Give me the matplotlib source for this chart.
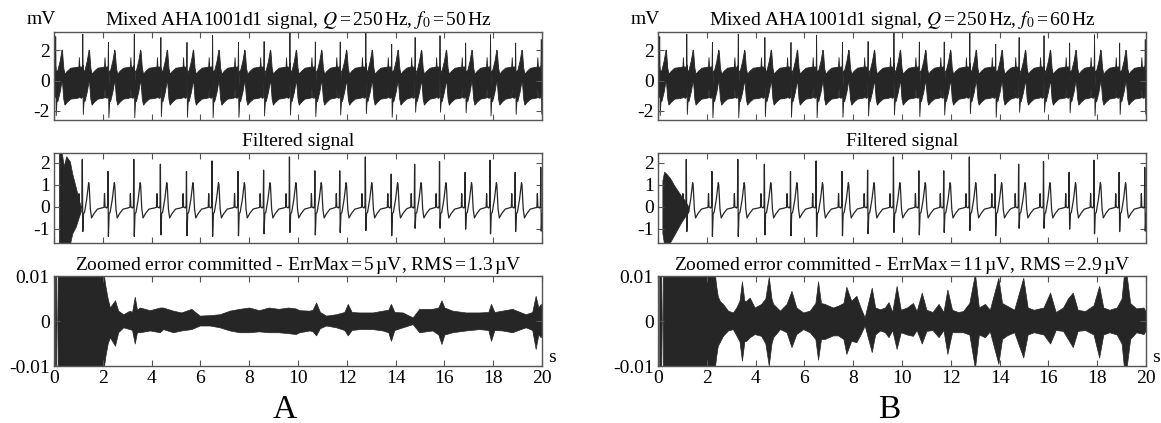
import numpy as np
import matplotlib
matplotlib.use("Agg")
import matplotlib.pyplot as plt

plt.rcParams["font.family"] = ["Liberation Serif", "DejaVu Serif"]
plt.rcParams["mathtext.fontset"] = "stix"
plt.rcParams["axes.unicode_minus"] = False

INK = "#262626"
FRAME = "#555555"

# R-peak times (s) and R / S amplitudes (mV)
beat_t = [0.05, 1.16, 2.21, 3.27, 4.36, 5.43, 6.48, 7.54, 8.59, 9.65,
          10.69, 11.71, 12.76, 13.82, 14.78, 15.80, 16.85, 17.87, 18.90, 19.95]
beat_r = [2.0, 2.16, 1.61, 2.16, 1.94, 1.61, 2.09, 1.61, 1.67, 2.27,
          1.64, 1.64, 2.27, 1.49, 1.94, 2.06, 1.57, 2.12, 1.57, 1.8]
beat_s = [-1.2, -1.12, -1.34, -1.34, -1.27, -1.31, -1.34, -1.31, -1.22, -1.16,
          -1.27, -1.16, -1.07, -1.31, -0.97, -0.97, -1.01, -1.22, -1.12, -1.1]

# one beat shape: offsets from R (s) and values (mV); None = R / S slots
tmpl_dt = [-0.25, -0.16, -0.14, -0.12, -0.05, -0.015, 0.0, 0.02, 0.05, 0.09,
           0.18, 0.26, 0.28, 0.33, 0.38, 0.48, 0.62]
tmpl_v = [-0.05, -0.02, 0.6, 0.0, -0.05, 0.05, None, None, -0.3, -0.25,
          0.35, 1.1, 1.0, -0.1, -0.5, -0.3, -0.1]

# 50/60 Hz interference band around the ECG (mV)
band_hi = 0.95
band_lo = -1.1

# start-up transient of the notch filter (envelope, mV)
trans_a_t = [0.20, 0.30, 0.40, 0.50, 0.65, 0.75, 0.89, 1.02, 1.10]
trans_a_top = [2.6, 2.6, 1.85, 2.3, 2.07, 1.5, 0.9, 0.3, 0.0]
trans_a_bot = [-1.8, -1.8, -1.8, -1.8, -1.7, -1.2, -0.9, -0.45, -0.2]

trans_b_t = [0.18, 0.25, 0.35, 0.50, 0.65, 0.80, 0.95, 1.10, 1.25]
trans_b_top = [1.2, 1.6, 1.5, 1.3, 1.0, 0.75, 0.5, 0.3, 0.0]
trans_b_bot = [-1.2, -1.7, -1.7, -1.6, -1.3, -1.0, -0.7, -0.45, -0.2]

# error envelopes (uV)
err_a_t = [0.03, 0.08, 0.10, 0.14, 0.15, 2.0, 2.1, 2.2, 2.29, 2.5, 2.63, 2.84, 3.1, 3.2,
           3.31, 3.4, 3.52, 3.93, 4.34, 4.47, 4.88, 5.22, 5.63, 5.97, 6.38, 6.79, 7.2,
           7.6, 8.0, 8.4, 8.8, 9.2, 9.6, 9.9, 10.06, 10.47, 10.6, 10.74, 10.9, 11.15,
           11.56, 11.9, 12.04, 12.2, 12.51, 13.06, 13.47, 13.7, 13.81, 13.95, 14.29,
           14.7, 14.97, 15.51, 15.75, 15.88, 16.0, 16.33, 16.88, 17.42, 17.8, 17.91,
           18.05, 18.37, 18.78, 19.33, 19.6, 19.74, 19.85, 19.95, 20.0]
err_a_top = [12, 12, 0, 0, 12, 12, 8, 5, 3.0, 4.6, 2.3, 1.5, 2.3, 2.0,
             5.4, 2.5, 3.0, 2.4, 3.0, 3.0, 2.3, 1.9, 2.7, 1.2, 1.3, 1.5, 2.3,
             2.7, 3.0, 2.4, 3.0, 2.7, 3.0, 2.8, 2.4, 2.3, 2.5, 4.1, 2.0, 1.2,
             1.5, 2.0, 3.8, 2.0, 1.9, 1.9, 2.3, 2.5, 3.8, 2.0, 1.9,
             0.8, 2.7, 2.7, 3.0, 4.6, 3.0, 2.3, 1.9, 1.9, 2.0, 3.8,
             2.0, 2.3, 2.7, 1.5, 2.0, 5.6, 3.0, 3.8, 3.0]
err_a_bot = [-12, -12, 0, 0, -12, -12, -8, -5, -3.6, -5.5, -2.5, -1.4, -1.8, -2.0,
             -5.0, -2.5, -2.5, -2.1, -2.5, -1.8, -2.5, -2.1, -1.8, -1.0, -1.0, -1.4, -2.1,
             -2.5, -2.5, -2.3, -2.5, -2.5, -2.7, -2.9, -2.5, -2.1, -2.3, -3.2, -1.6, -1.0,
             -1.4, -2.0, -3.2, -2.0, -1.8, -1.8, -2.1, -2.5, -4.4, -2.0, -1.4,
             -0.7, -2.5, -2.1, -3.0, -5.1, -3.0, -2.5, -2.1, -1.8, -2.0, -4.4,
             -2.0, -2.1, -2.5, -1.4, -2.0, -6.2, -3.0, -3.6, -3.0]

err_b_t = [0.05, 0.13, 0.15, 0.19, 0.20, 2.3, 2.38, 2.45, 2.53, 2.66, 2.87, 3.07, 3.21,
           3.34, 3.44, 3.54, 3.62, 3.76, 3.96, 4.23, 4.40, 4.54, 4.65, 4.72, 5.0, 5.27,
           5.47, 5.67, 5.95, 6.22, 6.45, 6.56, 6.68, 6.83, 7.17, 7.38, 7.6, 7.72, 7.92,
           8.13, 8.3, 8.47, 8.76, 8.9, 9.1, 9.3, 9.45, 9.6, 9.78, 9.95, 10.2, 10.45,
           10.6, 10.81, 11.0, 11.25, 11.5, 11.7, 11.86, 12.05, 12.3, 12.5, 12.76, 12.99,
           13.15, 13.4, 13.6, 13.95, 14.1, 14.3, 14.6, 14.97, 15.15, 15.4, 15.8, 16.07,
           16.3, 16.6, 16.8, 17.0, 17.2, 17.5, 17.85, 18.08, 18.25, 18.5, 18.8, 19.0,
           19.1, 19.2, 19.35, 19.6, 19.9, 20.0]
err_b_top = [12, 12, 0, 0, 12, 12, 8, 5.5, 4.5, 3.8, 2.3, 1.9, 3.0,
             4.5, 8.8, 4.5, 4.5, 5.2, 3.0, 3.8, 5.0, 9.8, 5.0, 3.8, 2.3, 3.8,
             6.7, 3.0, 1.9, 2.3, 4.0, 8.8, 4.0, 3.8, 3.0, 3.4, 4.0, 7.6, 4.5,
             5.6, 3.0, 0.8, 7.4, 3.0, 2.6, 3.0, 4.2, 2.0, 7.8, 2.5, 3.0, 4.0,
             2.2, 6.3, 2.5, 2.0, 3.8, 2.0, 7.0, 2.5, 2.0, 2.2, 4.0, 10.5,
             3.0, 3.8, 2.5, 9.6, 4.0, 3.4, 2.5, 9.6, 3.0, 2.5, 3.0, 6.3,
             2.0, 3.0, 5.0, 6.3, 2.5, 2.2, 3.5, 7.8, 3.0, 2.5, 3.0, 5.0,
             10.5, 10.5, 4.0, 2.8, 3.0, 2.0]
err_b_bot = [-12, -12, 0, 0, -12, -12, -8, -5.5, -4.7, -3.3, -2.1, -1.8, -3.2,
             -4.5, -8.8, -4.5, -4.4, -3.6, -2.9, -3.3, -5.0, -9.9, -5.0, -3.6, -1.8, -2.5,
             -5.8, -2.9, -1.8, -2.5, -4.0, -8.6, -4.0, -4.0, -3.2, -3.2, -4.0, -7.3, -4.4,
             -4.7, -3.0, -1.0, -6.9, -3.0, -2.1, -2.5, -3.6, -2.0, -6.2, -2.5, -3.0, -3.3,
             -2.0, -5.0, -2.2, -2.0, -3.6, -2.0, -7.3, -2.5, -2.5, -2.5, -3.0, -10.5,
             -3.0, -3.6, -2.3, -9.5, -4.0, -3.2, -2.5, -8.1, -3.0, -2.5, -3.0, -5.0,
             -2.0, -2.2, -4.0, -5.8, -2.2, -2.0, -3.0, -8.1, -3.0, -2.5, -3.0, -5.0,
             -10.5, -10.5, -4.0, -2.5, -2.9, -2.0]

panels = [
    dict(f0=50, trans=(trans_a_t, trans_a_top, trans_a_bot),
         err=(err_a_t, err_a_top, err_a_bot), errmax="5", rms="1.3", tag="A", x0=54, lx=285),
    dict(f0=60, trans=(trans_b_t, trans_b_top, trans_b_bot),
         err=(err_b_t, err_b_top, err_b_bot), errmax="11", rms="2.9", tag="B", x0=658, lx=889),
]

W, H = 1161, 423
FS = 14


def ecg_trace(times, r, s):
    xs, ys = [], []
    for t0, ra, sa in zip(times, r, s):
        vals = [ra if i == 6 else sa if i == 7 else v for i, v in enumerate(tmpl_v)]
        xs.extend(t0 + np.array(tmpl_dt))
        ys.extend(vals)
    return np.array(xs), np.array(ys)


def style(ax, yticks, ylabels, ylim, bottom=False):
    ax.set_xlim(0, 20)
    ax.set_ylim(*ylim)
    ax.set_xticks(np.arange(0, 21, 2))
    ax.set_yticks(yticks)
    ax.set_yticklabels(ylabels)
    ax.tick_params(direction="in", top=True, right=True, length=4, width=0.8,
                   color=FRAME, labelsize=FS, pad=3, labelbottom=bottom)
    for sp in ax.spines.values():
        sp.set_color(FRAME)
        sp.set_linewidth(1.0)


fig = plt.figure(figsize=(W / 100, H / 100), dpi=100)

ex, ey = ecg_trace(beat_t, beat_r, beat_s)
keep = [i for i, t in enumerate(beat_t) if t > 0.5]
fx, fy = ecg_trace([beat_t[i] for i in keep], [beat_r[i] for i in keep],
                   [beat_s[i] for i in keep])

for p in panels:
    left = p["x0"] / W
    width = 488 / W

    # mixed signal
    ax1 = fig.add_axes([left, 1 - 120 / H, width, 88 / H])
    ax1.fill_between(ex, ey + band_lo, ey + band_hi, color=INK, lw=0.6, edgecolor=INK)
    style(ax1, [-2, 0, 2], ["-2", "0", "2"], (-2.62, 3.22))
    ax1.set_title(r"Mixed AHA1001d1 signal, $Q\,$=$\,$250$\,$Hz, $f_0\,$=$\,$%d$\,$Hz" % p["f0"],
                  fontsize=FS, pad=5)
    ax1.text(0.005, 1.04, "mV", transform=ax1.transAxes, ha="right", va="bottom", fontsize=FS)

    # filtered signal
    ax2 = fig.add_axes([left, 1 - 243 / H, width, 90 / H])
    tt, tp, bt = p["trans"]
    ax2.fill_between(tt, bt, tp, color=INK, lw=0.5, edgecolor=INK)
    ax2.plot(fx, fy, color=INK, lw=0.9)
    style(ax2, [-1, 0, 1, 2], ["-1", "0", "1", "2"], (-1.64, 2.45))
    ax2.set_title("Filtered signal", fontsize=FS, pad=5)

    # error
    ax3 = fig.add_axes([left, 1 - 366 / H, width, 90 / H])
    et, etop, ebot = p["err"]
    ax3.fill_between(et, np.array(ebot) / 1000, np.array(etop) / 1000,
                     color=INK, lw=0.5, edgecolor=INK)
    style(ax3, [-0.01, 0, 0.01], ["-0.01", "0", "0.01"], (-0.01, 0.01), bottom=True)
    ax3.set_title("Zoomed error committed - ErrMax$\\,$=$\\,$%s$\\,$\u00b5V, RMS$\\,$=$\\,$%s$\\,$\u00b5V"
                  % (p["errmax"], p["rms"]), fontsize=FS, pad=4)
    ax3.text(1.012, 0.0, "s", transform=ax3.transAxes, ha="left", va="bottom", fontsize=FS)

    fig.text(p["lx"] / W, 0.012, p["tag"], ha="center", va="baseline", fontsize=24)

fig.savefig("out.png", dpi=100)
